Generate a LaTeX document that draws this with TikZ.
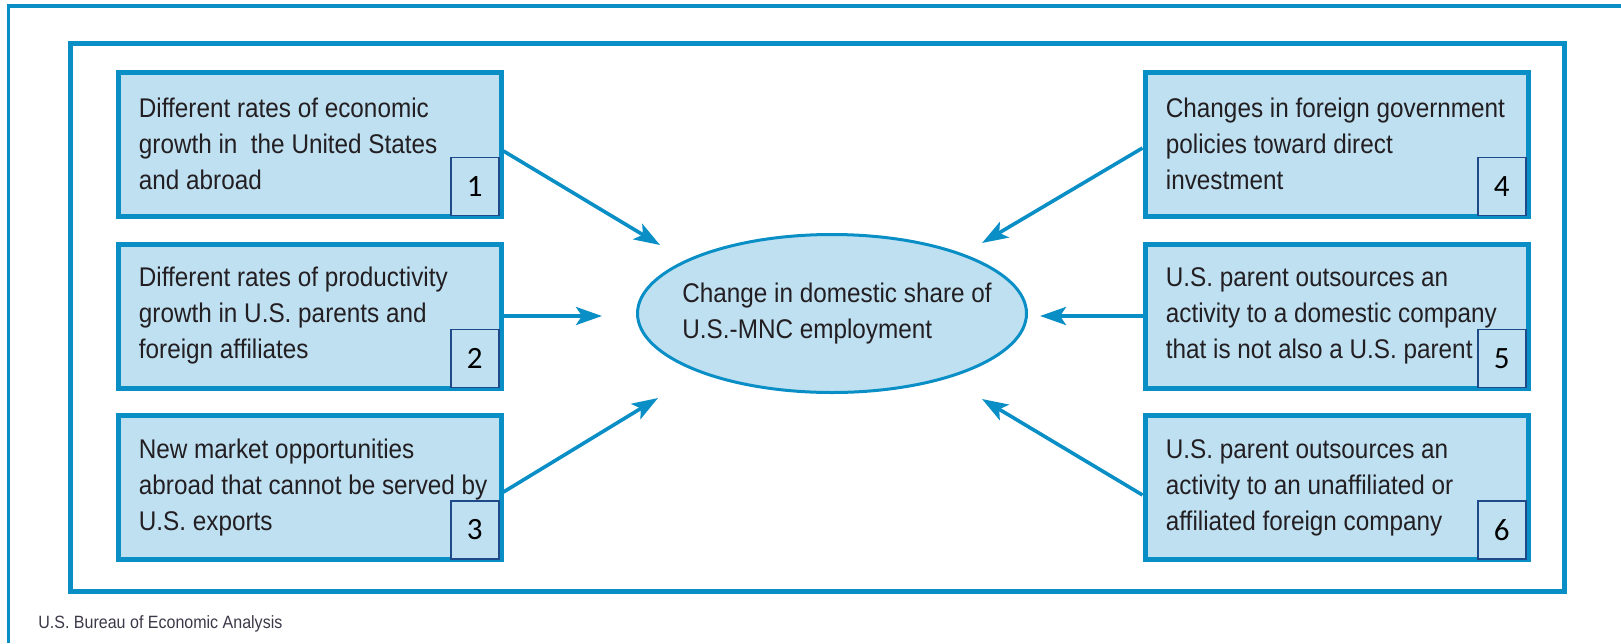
\documentclass[tikz,border=0pt]{standalone}
\usepackage{fontspec}
\setmainfont[FakeStretch=0.9]{Liberation Sans}
\newfontfamily\tagfont{Carlito}
\usetikzlibrary{arrows.meta,shapes.geometric}

\definecolor{frameblue}{HTML}{0A8EC6}
\definecolor{boxblue}{HTML}{BEE0F0}
\definecolor{tagnavy}{HTML}{1F4A8A}
\definecolor{inkgray}{HTML}{221E22}
\definecolor{captiongray}{HTML}{3D3848}

\tikzset{
    factor/.style={draw=frameblue, line width=2.5pt, fill=boxblue,
        minimum width=191.5pt, minimum height=72pt, inner sep=0pt},
    factortext/.style={anchor=west, align=left, inner sep=0pt, text=inkgray,
        font=\fontsize{13.5}{18}\selectfont},
    numtag/.style={draw=tagnavy, line width=0.75pt, fill=boxblue, anchor=south east,
        minimum width=24pt, minimum height=29pt, inner sep=0pt,
        font=\tagfont\fontsize{15.5}{18}\selectfont},
    hub/.style={ellipse, draw=frameblue, line width=1.5pt, fill=boxblue,
        minimum width=194.5pt, minimum height=79pt, inner sep=0pt},
    push/.style={draw=frameblue, line width=1.8pt,
        -{Stealth[length=13pt, width=9pt, inset=3pt]}}
}

\begin{document}
\begin{tikzpicture}[x=0.5pt, y=-0.5pt]
        \def \leftx {309.5}
        \def \rightx {1336.5}
        \def \pad {11.5pt}

        \useasboundingbox (0,0) rectangle (1621,643);

        % frames
        \draw[frameblue, line width=1.7pt] (8.5,643) |- (1621,6);
        \draw[frameblue, line width=2.5pt] (70.5,43.5) rectangle (1564,591);

        % the six factors
        \foreach \i/\x/\y/\txt in {
            1/\leftx/144/{Different rates of economic\\growth in~ the United States\\and abroad},
            2/\leftx/316/{Different rates of productivity\\growth in U.S. parents and\\foreign affiliates},
            3/\leftx/487.5/{New market opportunities\\abroad that cannot be served by\\U.S. exports},
            4/\rightx/144/{Changes in foreign government\\policies toward direct\\investment},
            5/\rightx/316/{U.S. parent outsources an\\activity to a domestic company\\that is not also a U.S. parent},
            6/\rightx/487.5/{U.S. parent outsources an\\activity to an unaffiliated or\\affiliated foreign company}}{
            \node[factor] (box\i) at (\x,\y) {};
            \node[factortext] (text\i) at ([xshift=\pad]box\i.west) {\txt};
            \node[numtag] (tag\i) at ([shift={(-2pt,1.2pt)}]box\i.south east) {\i};
        };

        % centre
        \node[hub] (hub) at (832,313.5) {};
        \node[factortext] (hubtext) at ([xshift=23pt]hub.west) {Change in domestic share of\\U.S.-MNC employment};

        \coordinate (in1) at (660,245);
        \coordinate (in2) at (602,316);
        \coordinate (in3) at (658,398);
        \coordinate (in4) at (982,243);
        \coordinate (in5) at (1040,316);
        \coordinate (in6) at (982,399);

        \draw[push] ([yshift=-3.5pt]box1.east) -- (in1);
        \draw[push] (box2.east) -- (in2);
        \draw[push] ([yshift=-2.25pt]box3.east) -- (in3);
        \draw[push] ([yshift=-2pt]box4.west) -- (in4);
        \draw[push] (box5.west) -- (in5);
        \draw[push] ([yshift=-3.75pt]box6.west) -- (in6);

        \node[anchor=base west, inner sep=0pt, text=captiongray,
            font=\fontsize{8.9}{10}\selectfont] (source) at (38,628) {U.S. Bureau of Economic Analysis};

\end{tikzpicture}
\end{document}
